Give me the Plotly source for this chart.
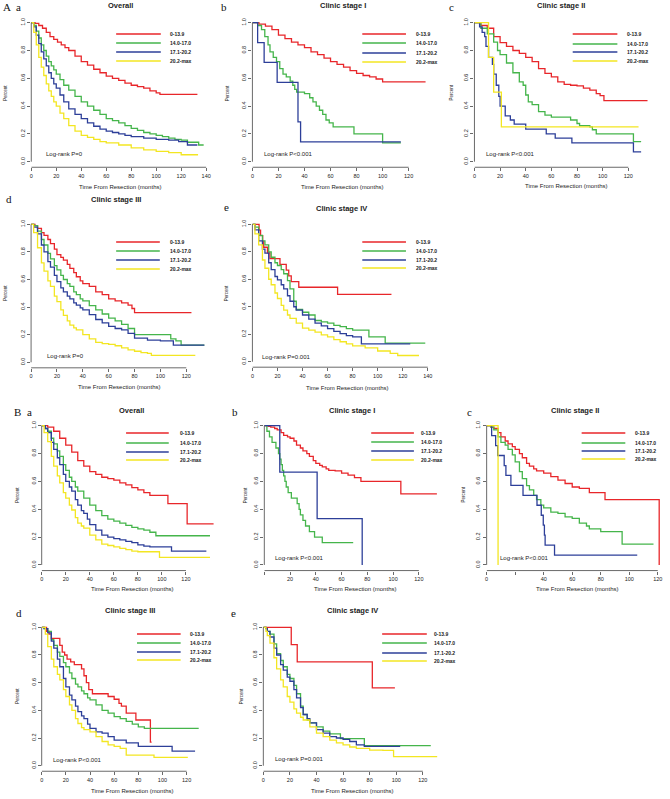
import plotly.graph_objects as go

W, H = 670, 799

# ---------------- DATA ----------------
LEGEND_LABELS = ["0-13.9", "14.0-17.0", "17.1-20.2", "20.2-max"]
SERIES_COLORS = ["#e8262a", "#45b54b", "#2d3f99", "#f3e622"]

# Panel A a - Overall
aa_red_t = [0, 3, 6, 9, 12, 15, 18, 21, 24, 27, 30, 35, 40, 45, 50, 55, 60, 65, 70, 75, 80, 85, 90, 95, 100, 103, 133]
aa_red_s = [1, 0.995, 0.98, 0.96, 0.93, 0.90, 0.88, 0.86, 0.84, 0.82, 0.80, 0.76, 0.72, 0.695, 0.665, 0.64, 0.615, 0.60, 0.585, 0.565, 0.55, 0.54, 0.53, 0.51, 0.495, 0.485, 0.485]
aa_green_t = [0, 2, 4, 6, 8, 10, 12, 14, 16, 18, 20, 23, 26, 30, 35, 40, 45, 50, 55, 60, 65, 70, 75, 80, 85, 90, 95, 100, 105, 110, 115, 120, 125, 130, 134, 138]
aa_green_s = [1, 0.98, 0.94, 0.89, 0.84, 0.80, 0.76, 0.72, 0.69, 0.66, 0.63, 0.59, 0.55, 0.515, 0.47, 0.43, 0.40, 0.37, 0.34, 0.31, 0.295, 0.28, 0.26, 0.24, 0.225, 0.21, 0.20, 0.19, 0.18, 0.17, 0.16, 0.155, 0.14, 0.14, 0.12, 0.12]
aa_blue_t = [0, 2, 4, 6, 8, 10, 12, 14, 16, 18, 20, 23, 26, 30, 35, 40, 45, 50, 55, 60, 65, 70, 75, 80, 90, 100, 110, 118, 125, 133]
aa_blue_s = [1, 0.97, 0.91, 0.85, 0.79, 0.74, 0.69, 0.64, 0.60, 0.56, 0.53, 0.48, 0.43, 0.38, 0.34, 0.31, 0.28, 0.255, 0.235, 0.22, 0.21, 0.20, 0.19, 0.18, 0.17, 0.16, 0.155, 0.145, 0.12, 0.12]
aa_yellow_t = [0, 2, 4, 6, 8, 10, 12, 14, 16, 18, 20, 23, 26, 30, 35, 40, 45, 50, 55, 60, 70, 80, 90, 100, 110, 120, 133]
aa_yellow_s = [1, 0.93, 0.84, 0.75, 0.68, 0.62, 0.56, 0.51, 0.47, 0.43, 0.40, 0.35, 0.31, 0.26, 0.22, 0.19, 0.175, 0.16, 0.145, 0.135, 0.12, 0.10, 0.085, 0.075, 0.065, 0.05, 0.045]

# Panel A b - Clinic stage I
ab_red_t = [0, 5, 10, 15, 20, 25, 30, 35, 40, 45, 50, 55, 60, 65, 70, 75, 80, 85, 90, 95, 100, 133]
ab_red_s = [1, 0.99, 0.975, 0.95, 0.91, 0.885, 0.86, 0.84, 0.82, 0.79, 0.77, 0.745, 0.72, 0.70, 0.68, 0.655, 0.635, 0.62, 0.61, 0.595, 0.575, 0.575]
ab_green_t = [0, 4, 7, 9.5, 12, 13.5, 16, 18.5, 21, 23.5, 26, 29, 31, 32.5, 34, 40, 44, 46.5, 49, 51.5, 54, 56.5, 59, 62, 78, 100, 114]
ab_green_s = [1, 0.98, 0.95, 0.90, 0.84, 0.79, 0.75, 0.72, 0.67, 0.63, 0.61, 0.58, 0.55, 0.52, 0.50, 0.49, 0.46, 0.43, 0.40, 0.37, 0.34, 0.30, 0.28, 0.25, 0.20, 0.135, 0.135]
ab_blue_t = [0, 4, 9, 19, 35, 37, 114]
ab_blue_s = [1, 0.857, 0.714, 0.571, 0.286, 0.143, 0.143]
ab_yellow_t = []
ab_yellow_s = []

# Panel A c - Clinic stage II
ac_red_t = [0, 5, 10, 15, 20, 25, 30, 35, 40, 45, 50, 55, 60, 65, 70, 75, 80, 85, 90, 95, 98, 101, 135]
ac_red_s = [1, 0.98, 0.96, 0.90, 0.856, 0.83, 0.80, 0.78, 0.75, 0.72, 0.67, 0.635, 0.61, 0.575, 0.556, 0.55, 0.545, 0.53, 0.515, 0.49, 0.475, 0.44, 0.44]
ac_green_t = [0, 5, 10, 15, 18, 20, 25, 30, 35, 38, 40, 42, 45, 50, 55, 60, 70, 75, 80, 82, 90, 92, 95, 124, 130]
ac_green_s = [1, 0.96, 0.92, 0.86, 0.80, 0.77, 0.71, 0.64, 0.575, 0.55, 0.48, 0.43, 0.41, 0.36, 0.335, 0.32, 0.32, 0.30, 0.275, 0.26, 0.25, 0.23, 0.20, 0.145, 0.145]
ac_blue_t = [0, 4, 6, 8, 9, 11, 14, 15, 17, 19, 20, 24, 28, 31, 40, 56, 63, 76, 124, 130]
ac_blue_s = [1, 0.97, 0.93, 0.90, 0.83, 0.75, 0.70, 0.63, 0.55, 0.47, 0.40, 0.33, 0.30, 0.27, 0.235, 0.20, 0.17, 0.135, 0.07, 0.07]
ac_yellow_t = [0, 11, 15, 21, 128]
ac_yellow_s = [1, 0.75, 0.50, 0.25, 0.25]

# Panel A d - Clinic stage III
ad_red_t = [0, 3, 5, 8, 10, 13, 15, 18, 20, 23, 25, 28, 30, 33, 35, 38, 40, 45, 50, 55, 60, 65, 70, 75, 78, 80, 124]
ad_red_s = [1, 0.99, 0.97, 0.94, 0.92, 0.89, 0.86, 0.82, 0.78, 0.76, 0.74, 0.71, 0.68, 0.65, 0.62, 0.59, 0.57, 0.55, 0.51, 0.49, 0.46, 0.445, 0.43, 0.415, 0.39, 0.36, 0.36]
ad_green_t = [0, 2, 5, 8, 10, 13, 15, 18, 20, 23, 25, 28, 30, 33, 35, 38, 40, 45, 50, 55, 60, 65, 70, 75, 80, 108, 112, 116, 134]
ad_green_s = [1, 0.99, 0.95, 0.89, 0.85, 0.79, 0.75, 0.70, 0.67, 0.63, 0.60, 0.57, 0.55, 0.51, 0.49, 0.46, 0.445, 0.41, 0.38, 0.35, 0.32, 0.30, 0.275, 0.245, 0.20, 0.17, 0.155, 0.125, 0.125]
ad_blue_t = [0, 2, 5, 8, 10, 13, 15, 18, 20, 23, 25, 28, 30, 33, 35, 38, 40, 45, 50, 55, 60, 65, 70, 75, 80, 90, 100, 110, 134]
ad_blue_s = [1, 0.98, 0.93, 0.85, 0.80, 0.73, 0.69, 0.63, 0.585, 0.54, 0.51, 0.48, 0.46, 0.43, 0.415, 0.395, 0.38, 0.345, 0.31, 0.285, 0.26, 0.245, 0.235, 0.21, 0.175, 0.16, 0.155, 0.125, 0.125]
ad_yellow_t = [0, 2, 5, 8, 10, 13, 15, 18, 20, 23, 25, 28, 30, 33, 35, 40, 45, 50, 55, 60, 65, 70, 75, 80, 85, 90, 93, 127]
ad_yellow_s = [1, 0.94, 0.83, 0.72, 0.66, 0.59, 0.55, 0.48, 0.44, 0.38, 0.34, 0.30, 0.27, 0.25, 0.235, 0.20, 0.17, 0.145, 0.135, 0.13, 0.12, 0.105, 0.09, 0.08, 0.07, 0.065, 0.05, 0.05]

# Panel A e - Clinic stage IV
ae_red_t = [0, 5.3, 6.5, 8.2, 9, 12, 14, 22, 27, 29, 31, 37, 68, 111]
ae_red_s = [1, 0.958, 0.917, 0.875, 0.833, 0.792, 0.75, 0.708, 0.667, 0.625, 0.583, 0.542, 0.49, 0.49]
ae_green_t = [0, 2, 5, 8, 10, 13, 15, 18, 20, 23, 25, 28, 30, 33, 35, 40, 45, 50, 55, 60, 65, 70, 75, 80, 93, 106, 138]
ae_green_s = [1, 0.98, 0.92, 0.88, 0.85, 0.80, 0.76, 0.72, 0.70, 0.67, 0.64, 0.59, 0.53, 0.44, 0.38, 0.36, 0.34, 0.30, 0.29, 0.28, 0.265, 0.255, 0.24, 0.23, 0.18, 0.135, 0.135]
ae_blue_t = [0, 2, 5, 8, 10, 13, 15, 18, 20, 23, 25, 28, 30, 33, 35, 40, 45, 50, 55, 60, 65, 70, 75, 80, 87, 126]
ae_blue_s = [1, 0.96, 0.88, 0.82, 0.79, 0.72, 0.67, 0.62, 0.595, 0.56, 0.53, 0.48, 0.44, 0.40, 0.375, 0.34, 0.31, 0.28, 0.26, 0.24, 0.22, 0.205, 0.19, 0.18, 0.13, 0.13]
ae_yellow_t = [0, 2, 5, 8, 10, 13, 15, 18, 20, 23, 25, 28, 30, 35, 40, 45, 50, 55, 60, 65, 70, 75, 80, 90, 100, 110, 116, 133]
ae_yellow_s = [1, 0.93, 0.85, 0.74, 0.68, 0.60, 0.56, 0.50, 0.46, 0.41, 0.375, 0.34, 0.315, 0.28, 0.245, 0.23, 0.215, 0.195, 0.18, 0.16, 0.145, 0.13, 0.115, 0.10, 0.078, 0.06, 0.045, 0.045]

# Panel B a - Overall
ba_red_t = [0, 5, 10, 15, 20, 25, 30, 35, 40, 45, 50, 55, 60, 65, 70, 75, 80, 85, 90, 105, 121, 143]
ba_red_s = [1, 0.99, 0.96, 0.91, 0.86, 0.81, 0.75, 0.71, 0.67, 0.65, 0.63, 0.62, 0.61, 0.59, 0.575, 0.555, 0.54, 0.52, 0.50, 0.44, 0.295, 0.295]
ba_green_t = [0, 3, 5, 8, 10, 13, 15, 18, 20, 23, 25, 28, 30, 35, 40, 45, 50, 55, 60, 65, 70, 75, 80, 85, 90, 95, 140]
ba_green_s = [1, 0.98, 0.96, 0.91, 0.87, 0.82, 0.78, 0.72, 0.68, 0.63, 0.60, 0.56, 0.53, 0.48, 0.43, 0.39, 0.355, 0.33, 0.315, 0.30, 0.285, 0.27, 0.26, 0.25, 0.235, 0.21, 0.21]
ba_blue_t = [0, 3, 5, 8, 10, 13, 15, 18, 20, 23, 25, 28, 30, 33, 35, 38, 40, 45, 50, 55, 60, 65, 70, 75, 80, 85, 90, 108, 137]
ba_blue_s = [1, 0.98, 0.95, 0.88, 0.83, 0.77, 0.72, 0.65, 0.60, 0.56, 0.53, 0.47, 0.43, 0.39, 0.37, 0.33, 0.29, 0.25, 0.215, 0.20, 0.19, 0.18, 0.17, 0.16, 0.145, 0.135, 0.13, 0.10, 0.10]
ba_yellow_t = [0, 2, 5, 8, 10, 13, 15, 18, 20, 23, 25, 28, 30, 33, 35, 40, 45, 50, 55, 60, 65, 70, 75, 80, 98, 140]
ba_yellow_s = [1, 0.95, 0.885, 0.78, 0.71, 0.64, 0.59, 0.52, 0.48, 0.43, 0.395, 0.34, 0.30, 0.28, 0.265, 0.215, 0.18, 0.15, 0.14, 0.13, 0.12, 0.11, 0.10, 0.095, 0.055, 0.055]

# Panel B b - Clinic stage I
bb_red_t = [0, 3, 5, 8, 10, 13, 15, 18, 20, 23, 25, 28, 30, 33, 35, 38, 40, 43, 45, 48, 50, 55, 60, 65, 70, 75, 106, 134]
bb_red_s = [1, 0.995, 0.99, 0.98, 0.97, 0.95, 0.93, 0.92, 0.91, 0.89, 0.86, 0.84, 0.82, 0.80, 0.78, 0.75, 0.73, 0.715, 0.705, 0.69, 0.68, 0.675, 0.66, 0.645, 0.627, 0.60, 0.51, 0.51]
bb_green_t = [0, 2, 4, 6, 9, 11, 12, 13, 14, 15, 16, 17, 18.5, 21, 25.5, 27, 28, 30, 32, 35, 39, 45, 69]
bb_green_s = [1, 0.96, 0.92, 0.88, 0.84, 0.80, 0.76, 0.72, 0.68, 0.64, 0.60, 0.56, 0.52, 0.48, 0.44, 0.40, 0.36, 0.32, 0.28, 0.24, 0.20, 0.16, 0.16]
bb_blue_t = [0, 12, 41, 76]
bb_blue_s = [1, 0.667, 0.333, 0.0]
bb_yellow_t = []
bb_yellow_s = []

# Panel B c - Clinic stage II
bc_red_t = [0, 3, 5, 8, 10, 13, 15, 18, 20, 23, 25, 28, 30, 33, 35, 40, 45, 50, 55, 60, 65, 72, 83, 121]
bc_red_s = [1, 0.99, 0.98, 0.95, 0.92, 0.89, 0.87, 0.85, 0.83, 0.80, 0.77, 0.73, 0.71, 0.69, 0.675, 0.66, 0.635, 0.61, 0.585, 0.56, 0.55, 0.52, 0.47, 0.0]
bc_green_t = [0, 3, 5, 8, 10, 13, 15, 18, 20, 23, 25, 28, 30, 33, 35, 38, 40, 45, 50, 55, 60, 65, 70, 72, 80, 95, 117]
bc_green_s = [1, 0.99, 0.97, 0.92, 0.88, 0.86, 0.83, 0.79, 0.74, 0.67, 0.62, 0.57, 0.54, 0.50, 0.47, 0.43, 0.41, 0.38, 0.37, 0.345, 0.335, 0.30, 0.28, 0.26, 0.24, 0.15, 0.15]
bc_blue_t = [0, 3.5, 6.3, 7.7, 12.3, 13.5, 17, 25.5, 35.3, 38.3, 39.7, 40.5, 41, 47.6, 105.6]
bc_blue_s = [1, 0.929, 0.857, 0.786, 0.714, 0.643, 0.571, 0.5, 0.429, 0.357, 0.286, 0.214, 0.143, 0.071, 0.071]
bc_yellow_t = [0, 8]
bc_yellow_s = [1, 0.0]

# Panel B d - Clinic stage III
bd_red_t = [0, 4, 6, 8, 15, 17, 19, 21, 24, 27, 33, 35, 37, 39, 42, 55, 60, 64, 66, 70, 78, 90, 91]
bd_red_s = [1, 0.97, 0.95, 0.92, 0.87, 0.82, 0.80, 0.77, 0.75, 0.73, 0.70, 0.65, 0.60, 0.55, 0.52, 0.50, 0.48, 0.45, 0.43, 0.38, 0.33, 0.17, 0.17]
bd_green_t = [0, 2, 5, 8, 10, 13, 15, 18, 20, 23, 25, 28, 30, 33, 35, 38, 40, 45, 50, 55, 60, 65, 70, 75, 80, 85, 130]
bd_green_s = [1, 0.99, 0.97, 0.91, 0.87, 0.82, 0.79, 0.745, 0.715, 0.67, 0.63, 0.59, 0.57, 0.54, 0.52, 0.49, 0.475, 0.44, 0.40, 0.38, 0.355, 0.34, 0.32, 0.30, 0.28, 0.27, 0.27]
bd_blue_t = [0, 2, 5, 8, 10, 13, 15, 18, 20, 23, 25, 28, 30, 33, 35, 38, 40, 45, 50, 55, 60, 70, 80, 108, 127]
bd_blue_s = [1, 0.99, 0.96, 0.90, 0.85, 0.77, 0.715, 0.63, 0.57, 0.51, 0.475, 0.43, 0.39, 0.36, 0.34, 0.30, 0.27, 0.245, 0.235, 0.21, 0.185, 0.165, 0.14, 0.105, 0.105]
bd_yellow_t = [0, 3, 5, 8, 10, 13, 15, 18, 20, 23, 25, 28, 30, 33, 35, 40, 45, 50, 55, 60, 65, 70, 93, 121]
bd_yellow_s = [1, 0.95, 0.86, 0.77, 0.715, 0.66, 0.62, 0.55, 0.50, 0.44, 0.40, 0.34, 0.305, 0.275, 0.26, 0.245, 0.21, 0.175, 0.15, 0.14, 0.125, 0.077, 0.06, 0.06]

# Panel B e - Clinic stage IV
be_red_t = [0, 21, 25.5, 82, 99]
be_red_s = [1, 0.875, 0.75, 0.5625, 0.5625]
be_green_t = [0, 2, 3, 5, 8, 10, 13, 15, 18, 20, 23, 25, 28, 30, 33, 35, 40, 45, 50, 58, 76, 126]
be_green_s = [1, 0.99, 0.97, 0.95, 0.88, 0.81, 0.76, 0.715, 0.66, 0.63, 0.58, 0.52, 0.43, 0.37, 0.33, 0.31, 0.28, 0.25, 0.23, 0.195, 0.145, 0.145]
be_blue_t = [0, 2, 3, 5, 8, 10, 13, 15, 18, 20, 23, 25, 28, 30, 33, 35, 40, 45, 50, 55, 60, 65, 70, 76, 103]
be_blue_s = [1, 0.99, 0.97, 0.93, 0.85, 0.80, 0.73, 0.69, 0.64, 0.61, 0.55, 0.49, 0.42, 0.37, 0.34, 0.31, 0.26, 0.235, 0.21, 0.20, 0.19, 0.175, 0.15, 0.14, 0.14]
be_yellow_t = [0, 2, 3, 5, 8, 10, 13, 15, 18, 20, 23, 25, 28, 30, 35, 40, 45, 50, 55, 60, 65, 70, 80, 90, 98, 131]
be_yellow_s = [1, 0.97, 0.94, 0.885, 0.78, 0.70, 0.62, 0.57, 0.50, 0.46, 0.41, 0.38, 0.35, 0.33, 0.28, 0.235, 0.21, 0.185, 0.165, 0.15, 0.135, 0.125, 0.113, 0.11, 0.065, 0.065]

PANEL_TITLES = ["Overall", "Clinic stage I", "Clinic stage II", "Clinic stage III", "Clinic stage IV",
                "Overall", "Clinic stage I", "Clinic stage II", "Clinic stage III", "Clinic stage IV"]
PANEL_LETTERS = ["a", "b", "c", "d", "e", "a", "b", "c", "d", "e"]
LOGRANK_TEXTS = ["Log-rank P=0", "Log-rank P<0.001", "Log-rank P<0.001", "Log-rank P=0", "Log-rank P=0.001",
                 None, "Log-rank P<0.001", "Log-rank P<0.001", "Log-rank P<0.001", "Log-rank P=0.001"]
X_TICKS = [list(range(0, 141, 20)), list(range(0, 121, 20)), list(range(0, 121, 20)), list(range(0, 121, 20)),
           list(range(0, 141, 20)), list(range(0, 121, 20)), list(range(0, 121, 20)), list(range(0, 121, 20)),
           list(range(0, 121, 20)), list(range(0, 121, 20))]
Y_TICKS = [0, 0.2, 0.4, 0.6, 0.8, 1.0]
X_TITLE = "Time From Resection (months)"
Y_TITLE = "Percent"

SERIES = [
    [(aa_red_t, aa_red_s), (aa_green_t, aa_green_s), (aa_blue_t, aa_blue_s), (aa_yellow_t, aa_yellow_s)],
    [(ab_red_t, ab_red_s), (ab_green_t, ab_green_s), (ab_blue_t, ab_blue_s), (ab_yellow_t, ab_yellow_s)],
    [(ac_red_t, ac_red_s), (ac_green_t, ac_green_s), (ac_blue_t, ac_blue_s), (ac_yellow_t, ac_yellow_s)],
    [(ad_red_t, ad_red_s), (ad_green_t, ad_green_s), (ad_blue_t, ad_blue_s), (ad_yellow_t, ad_yellow_s)],
    [(ae_red_t, ae_red_s), (ae_green_t, ae_green_s), (ae_blue_t, ae_blue_s), (ae_yellow_t, ae_yellow_s)],
    [(ba_red_t, ba_red_s), (ba_green_t, ba_green_s), (ba_blue_t, ba_blue_s), (ba_yellow_t, ba_yellow_s)],
    [(bb_red_t, bb_red_s), (bb_green_t, bb_green_s), (bb_blue_t, bb_blue_s), (bb_yellow_t, bb_yellow_s)],
    [(bc_red_t, bc_red_s), (bc_green_t, bc_green_s), (bc_blue_t, bc_blue_s), (bc_yellow_t, bc_yellow_s)],
    [(bd_red_t, bd_red_s), (bd_green_t, bd_green_s), (bd_blue_t, bd_blue_s), (bd_yellow_t, bd_yellow_s)],
    [(be_red_t, be_red_s), (be_green_t, be_green_s), (be_blue_t, be_blue_s), (be_yellow_t, be_yellow_s)],
]

# ---------------- LAYOUT GEOMETRY (pixels) ----------------
# x0: pixel of x=0, ppu: pixels per month, xr: right end of x range,
# y0/y1: pixel rows of survival 0 and 1
GEOM = [
    dict(x0=29.5, ppu=1.2586, xr=142, y0=161.7, y1=22.7, title=(119, 6), xlab=(119, 187), ylab=(4, 93),
         lr=(42, 154), leg=(115, 160, 167, [34, 43, 52, 61]), hide=[]),
    dict(x0=252.3, ppu=1.3117, xr=135, y0=161.7, y1=22.7, title=(343.5, 6), xlab=(342.5, 187), ylab=(228, 93),
         lr=(262, 154), leg=(363, 407, 415, [34, 43, 53, 62]), hide=[]),
    dict(x0=476, ppu=1.2917, xr=136, y0=161.7, y1=22.7, title=(563, 6), xlab=(568, 186), ylab=(453, 93),
         lr=(486, 154), leg=(575, 620, 628, [34, 44, 52, 61]), hide=[]),
    dict(x0=29.3, ppu=1.303, xr=135, y0=362.3, y1=224.3, title=(115, 200), xlab=(118, 387), ylab=(4, 293),
         lr=(43, 356), leg=(115, 159, 167, [242, 251, 260, 269]), hide=[]),
    dict(x0=252.3, ppu=1.262, xr=141, y0=361.7, y1=224.3, title=(342, 208), xlab=(348, 388), ylab=(227, 293),
         lr=(260, 357), leg=(363, 407, 415, [242, 251, 260, 268]), hide=[]),
    dict(x0=40, ppu=1.211, xr=145, y0=565, y1=425.7, title=(130, 410), xlab=(130.5, 589), ylab=(15, 495),
         lr=None, leg=(125, 168, 177, [433, 443, 452, 460]), hide=[]),
    dict(x0=264.3, ppu=1.2975, xr=135, y0=565, y1=425.7, title=(353, 410), xlab=(356, 589), ylab=(245, 495),
         lr=(273, 558), leg=(372, 415, 420, [433, 442, 451, 460]), hide=[0]),
    dict(x0=488.3, ppu=1.4367, xr=124, y0=565, y1=425.7, title=(577, 410), xlab=(579, 589), ylab=(464, 495),
         lr=(500, 558), leg=(584, 628, 636, [433, 443, 451, 459]), hide=[20]),
    dict(x0=40, ppu=1.2167, xr=131, y0=765.7, y1=627.3, title=(129, 610), xlab=(131, 791), ylab=(15, 696),
         lr=(49, 760), leg=(136, 180, 187, [634, 643, 652, 660]), hide=[]),
    dict(x0=263.3, ppu=1.339, xr=131, y0=765.7, y1=627.3, title=(353, 610), xlab=(353, 791), ylab=(241, 696),
         lr=(273, 759), leg=(383, 428, 433, [634, 643, 653, 661]), hide=[]),
]
LETTERS_POS = [(17, 7), (223.5, 7), (453, 7), (7, 199), (226, 207),
               (27.5, 412), (235, 412), (471, 412), (17, 613), (233, 613)]
BIG_LETTERS = [("A", 5, 7), ("B", 16, 412)]

SANS = "Liberation Sans, Arial, sans-serif"
SERIF = "Liberation Serif, Times New Roman, serif"
TXT = "#222222"
AXC = "#444444"


def PX(x):
    return x / W


def PY(y):
    return 1 - y / H


fig = go.Figure()
layout = dict(width=W, height=H, margin=dict(l=0, r=0, t=0, b=0), autosize=False,
              paper_bgcolor="white", plot_bgcolor="white", showlegend=False)
shapes = []
annotations = []

for i, g in enumerate(GEOM):
    k = "" if i == 0 else str(i + 1)
    xa, ya = "x" + k, "y" + k
    span = g["y0"] - g["y1"]
    bot = g["y0"] + 0.04 * span
    top = g["y1"] - 0.04 * span
    left = g["x0"]
    right = g["x0"] + g["xr"] * g["ppu"]
    ticks = X_TICKS[i]
    ticktext = ["" if v in g["hide"] else str(v) for v in ticks]
    layout["xaxis" + k] = dict(domain=[PX(left), PX(right)], range=[0, g["xr"]], anchor=ya,
                               showgrid=False, zeroline=False, showline=False,
                               tickmode="array", tickvals=ticks, ticktext=ticktext,
                               ticks="outside", ticklen=3, tickwidth=0.8, tickcolor=AXC,
                               tickfont=dict(family=SANS, size=5.5, color=TXT), fixedrange=True)
    layout["yaxis" + k] = dict(domain=[PY(bot), PY(top)], range=[-0.04, 1.04], anchor=xa,
                               showgrid=False, zeroline=False, showline=False,
                               tickmode="array", tickvals=Y_TICKS, ticktext=["%.1f" % v for v in Y_TICKS],
                               tickangle=-90,
                               ticks="outside", ticklen=3, tickwidth=0.8, tickcolor=AXC,
                               tickfont=dict(family=SANS, size=5.5, color=TXT), fixedrange=True)
    # R-style separated axis lines
    shapes.append(dict(type="line", xref=xa, yref=ya + " domain", x0=ticks[0], x1=ticks[-1], y0=0, y1=0,
                       line=dict(color=AXC, width=0.8)))
    shapes.append(dict(type="line", xref=xa + " domain", yref=ya, x0=0, x1=0, y0=0, y1=1,
                       line=dict(color=AXC, width=0.8)))

    for j, (t, s) in enumerate(SERIES[i]):
        if len(t) == 0:
            continue
        fig.add_trace(go.Scatter(x=t, y=s, mode="lines", xaxis=xa, yaxis=ya,
                                 line=dict(color=SERIES_COLORS[j], width=1.3, shape="hv"),
                                 hoverinfo="skip", showlegend=False))

    # legend (drawn R-style: long line segment + bold label)
    lx0, lx1, ltx, lys = g["leg"]
    for j, ly in enumerate(lys):
        shapes.append(dict(type="line", xref="paper", yref="paper", x0=PX(lx0), x1=PX(lx1),
                           y0=PY(ly), y1=PY(ly), line=dict(color=SERIES_COLORS[j], width=1.3)))
        annotations.append(dict(text="<b>%s</b>" % LEGEND_LABELS[j], x=PX(ltx), y=PY(ly), xref="paper",
                                yref="paper", xanchor="left", yanchor="middle", showarrow=False,
                                font=dict(family=SANS, size=5, color=TXT)))

    tx, ty = g["title"]
    annotations.append(dict(text="<b>%s</b>" % PANEL_TITLES[i], x=PX(tx), y=PY(ty), xref="paper", yref="paper",
                            xanchor="center", yanchor="middle", showarrow=False,
                            font=dict(family=SANS, size=7.5, color=TXT)))
    xx, xy = g["xlab"]
    annotations.append(dict(text=X_TITLE, x=PX(xx), y=PY(xy), xref="paper", yref="paper",
                            xanchor="center", yanchor="middle", showarrow=False,
                            font=dict(family=SANS, size=6, color=TXT)))
    yx, yy = g["ylab"]
    annotations.append(dict(text=Y_TITLE, x=PX(yx), y=PY(yy), xref="paper", yref="paper", textangle=-90,
                            xanchor="center", yanchor="middle", showarrow=False,
                            font=dict(family=SANS, size=4.5, color=TXT)))
    if LOGRANK_TEXTS[i] and g["lr"]:
        lrx, lry = g["lr"]
        annotations.append(dict(text=LOGRANK_TEXTS[i], x=PX(lrx), y=PY(lry), xref="paper", yref="paper",
                                xanchor="left", yanchor="middle", showarrow=False,
                                font=dict(family=SANS, size=6, color=TXT)))
    lx, ly = LETTERS_POS[i]
    annotations.append(dict(text=PANEL_LETTERS[i], x=PX(lx), y=PY(ly), xref="paper", yref="paper",
                            xanchor="center", yanchor="middle", showarrow=False,
                            font=dict(family=SERIF, size=11, color="#111111")))

for txt, bx, by in BIG_LETTERS:
    annotations.append(dict(text=txt, x=PX(bx), y=PY(by), xref="paper", yref="paper",
                            xanchor="center", yanchor="middle", showarrow=False,
                            font=dict(family=SERIF, size=11, color="#111111")))

layout["shapes"] = shapes
layout["annotations"] = annotations
fig.update_layout(**layout)
# remove the browser's default 8px page margin so the figure sits at the window's top-left corner
fig.write_html("out.html", config={"displayModeBar": False, "staticPlot": True},
               post_script="document.body.style.margin='0px';document.body.style.overflow='hidden';")
